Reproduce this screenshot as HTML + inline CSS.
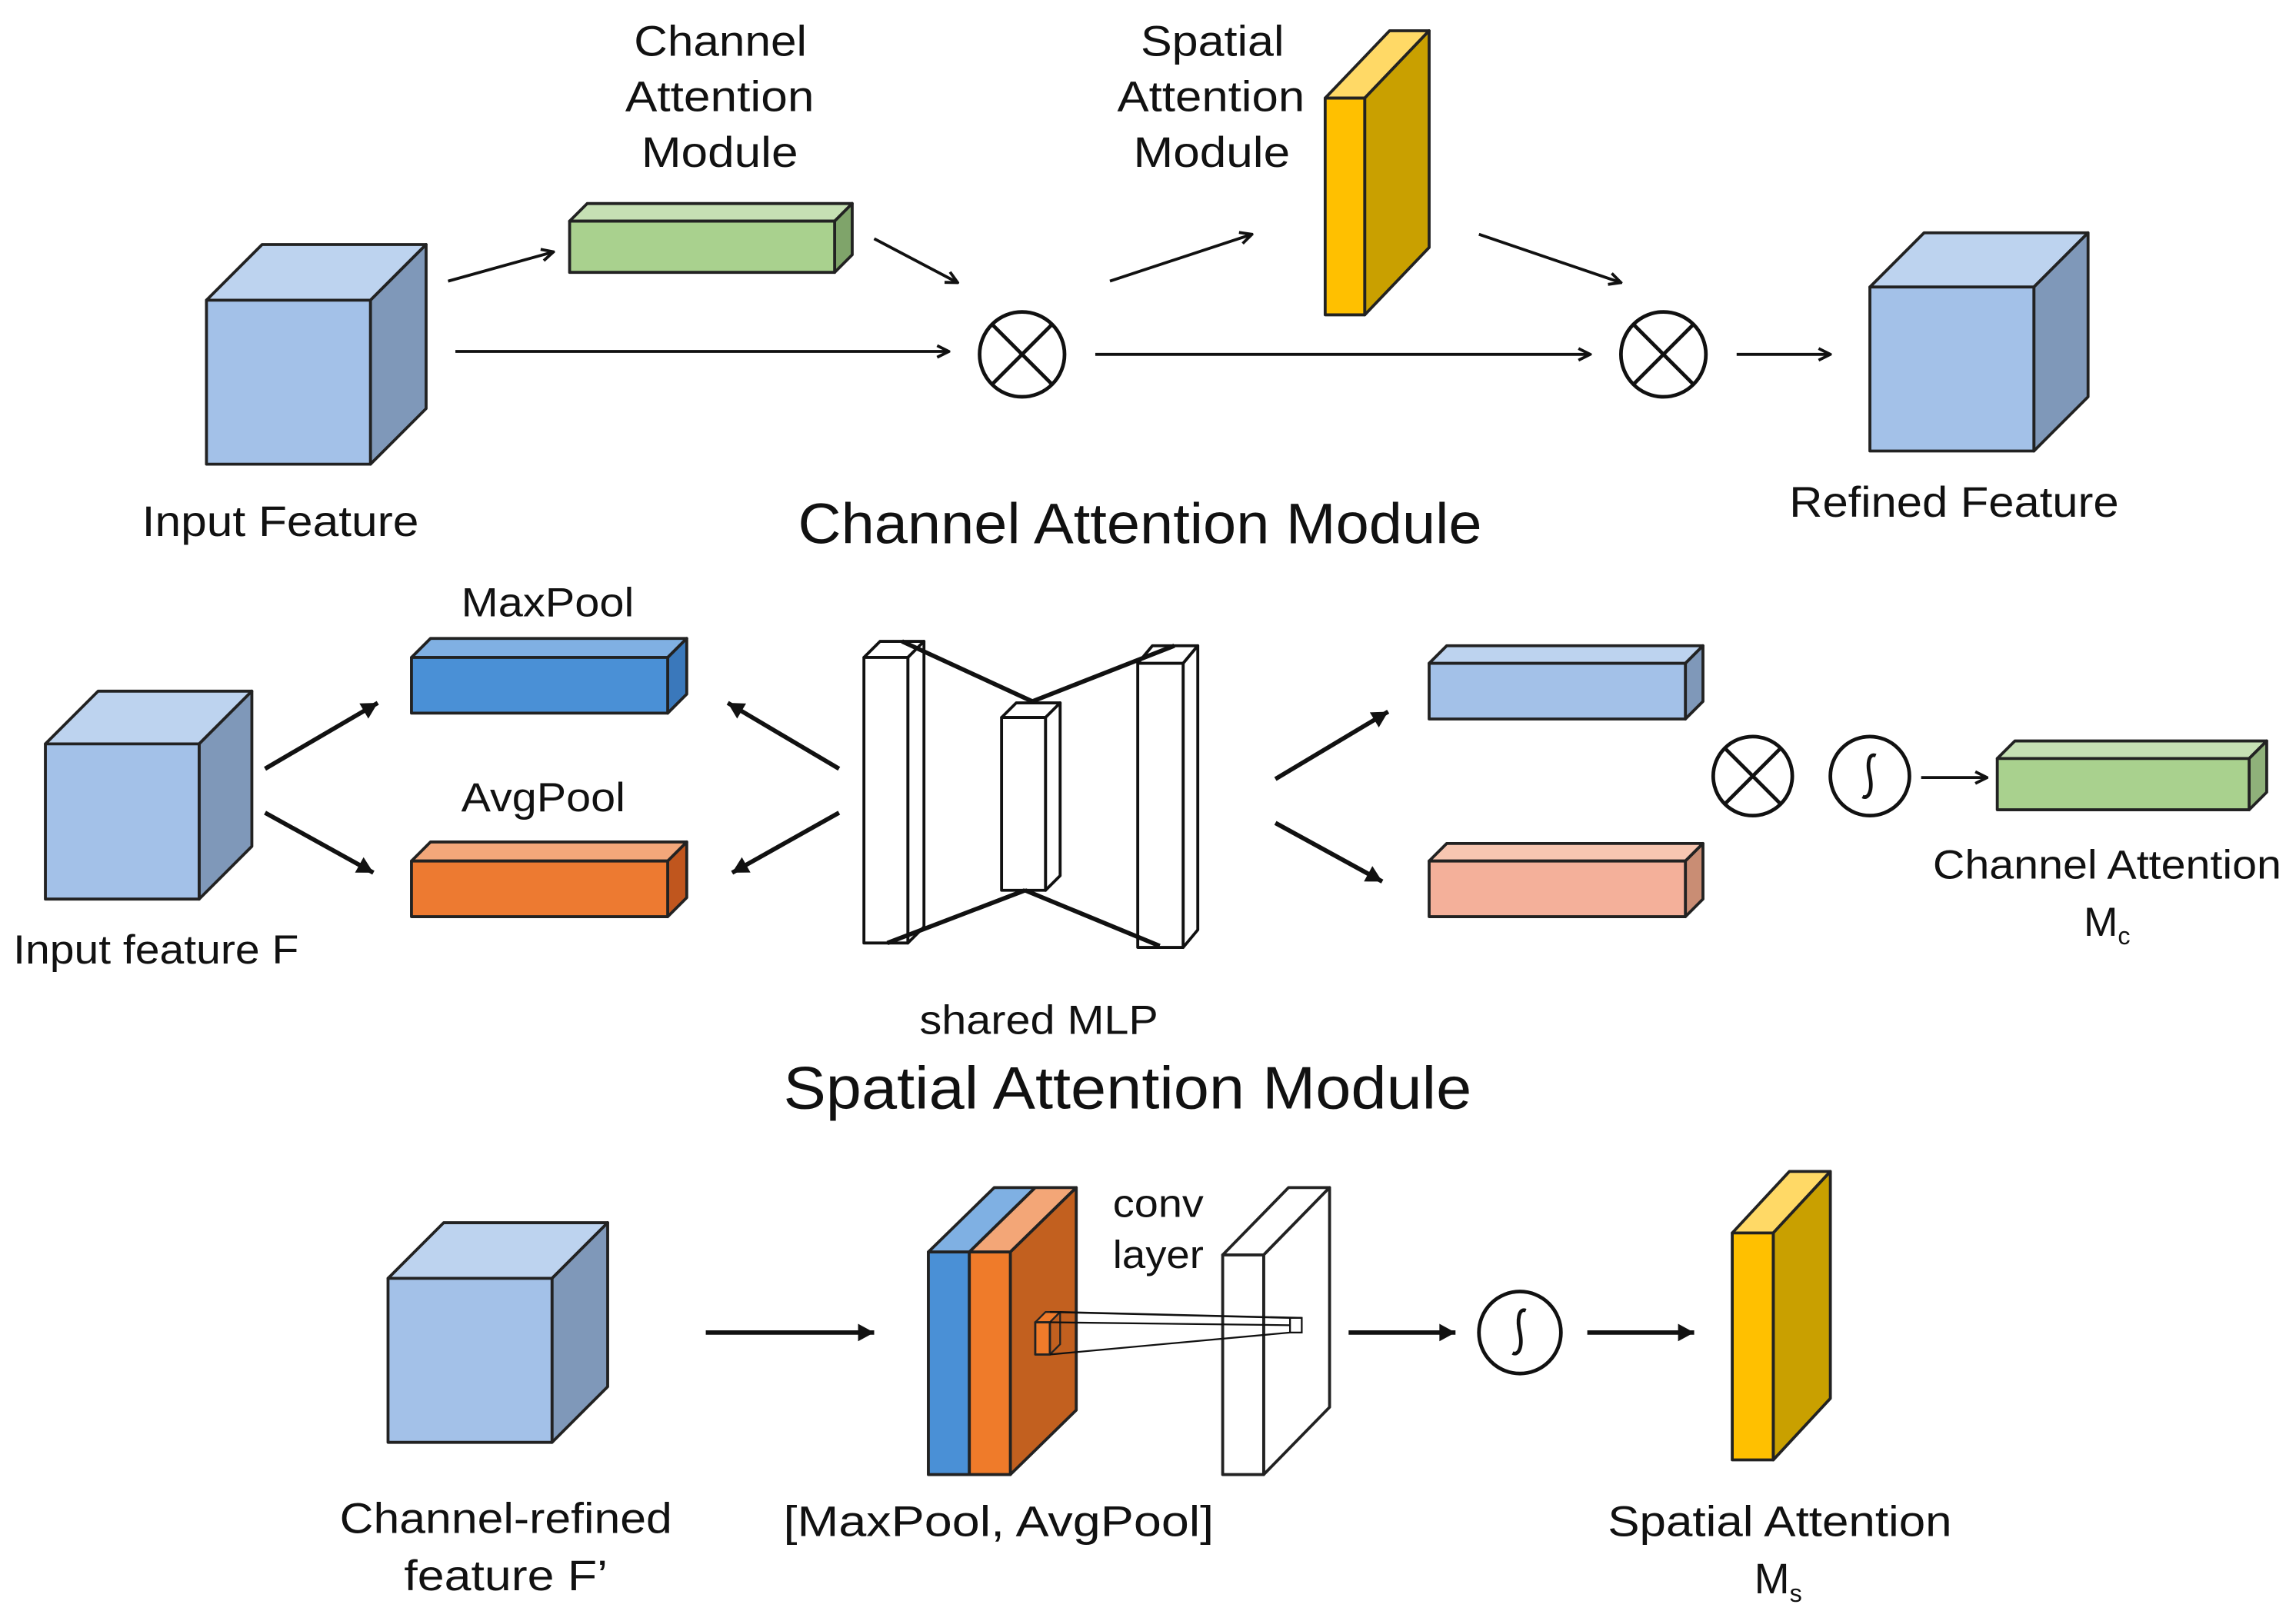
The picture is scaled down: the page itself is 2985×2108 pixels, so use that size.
<!DOCTYPE html>
<html><head><meta charset="utf-8"><style>
html,body{margin:0;padding:0;background:#fff;}
svg{display:block;}
text{font-family:"Liberation Sans",sans-serif;fill:#111;}
</style></head><body>
<svg width="2985" height="2108" viewBox="0 0 1568 1107" preserveAspectRatio="none" xmlns="http://www.w3.org/2000/svg">
<defs>
<marker id="ah" markerWidth="10" markerHeight="10" refX="9" refY="5" orient="auto" markerUnits="userSpaceOnUse">
<path d="M1,1 L9,5 L1,9" fill="none" stroke="#111" stroke-width="2"/>
</marker>
<marker id="ah2" markerWidth="14" markerHeight="14" refX="12" refY="7" orient="auto" markerUnits="userSpaceOnUse">
<path d="M1,1 L12,7 L1,13 Z" fill="#111"/>
</marker>
</defs>
<g stroke="#222" stroke-width="2" stroke-linejoin="round">
<polygon points="141,205 179,167 291,167 253,205" fill="#bdd3ef"/>
<polygon points="253,205 291,167 291,279 253,317" fill="#7f98b9"/>
<rect x="141" y="205" width="112" height="112" fill="#a3c1e8"/>
<polygon points="389,151 401,139 582,139 570,151" fill="#c6e0b4"/>
<polygon points="570,151 582,139 582,174 570,186" fill="#7fa46a"/>
<rect x="389" y="151" width="181" height="35" fill="#a9d18e"/>
<polygon points="905,67 949,21 976,21 932,67" fill="#ffd966"/>
<polygon points="932,67 976,21 976,169 932,215" fill="#c9a000"/>
<rect x="905" y="67" width="27" height="148" fill="#ffc000"/>
<polygon points="1277,196 1314,159 1426,159 1389,196" fill="#bdd3ef"/>
<polygon points="1389,196 1426,159 1426,271 1389,308" fill="#7f98b9"/>
<rect x="1277" y="196" width="112" height="112" fill="#a3c1e8"/>
</g>
<g fill="none" stroke="#111" stroke-width="2.5">
<circle cx="698" cy="242" r="29"/><path d="M677,221 L719,263 M719,221 L677,263"/>
<circle cx="1136" cy="242" r="29"/><path d="M1115,221 L1157,263 M1157,221 L1115,263"/>
</g>
<g stroke="#111" stroke-width="2" marker-end="url(#ah)">
<line x1="306" y1="192" x2="378" y2="172"/>
<line x1="597" y1="163" x2="654" y2="193"/>
<line x1="311" y1="240" x2="648" y2="240"/>
<line x1="758" y1="192" x2="855" y2="160"/>
<line x1="1010" y1="160" x2="1107" y2="193"/>
<line x1="748" y1="242" x2="1086" y2="242"/>
<line x1="1186" y1="242" x2="1250" y2="242"/>
</g>
<g font-size="29" lengthAdjust="spacingAndGlyphs">
<text x="433" y="38" textLength="118" lengthAdjust="spacingAndGlyphs">Channel</text>
<text x="427" y="76" textLength="129" lengthAdjust="spacingAndGlyphs">Attention</text>
<text x="438" y="114" textLength="107" lengthAdjust="spacingAndGlyphs">Module</text>
<text x="779" y="38" textLength="98" lengthAdjust="spacingAndGlyphs">Spatial</text>
<text x="763" y="76" textLength="128" lengthAdjust="spacingAndGlyphs">Attention</text>
<text x="774" y="114" textLength="107" lengthAdjust="spacingAndGlyphs">Module</text>
<text x="97" y="366" textLength="189" lengthAdjust="spacingAndGlyphs">Input Feature</text>
<text x="1222" y="353" textLength="225" lengthAdjust="spacingAndGlyphs">Refined Feature</text>
</g>
<text x="545" y="371" font-size="39" textLength="467" lengthAdjust="spacingAndGlyphs">Channel Attention Module</text>

<g stroke="#222" stroke-width="2" stroke-linejoin="round">
<polygon points="31,508 67,472 172,472 136,508" fill="#bdd3ef"/>
<polygon points="136,508 172,472 172,578 136,614" fill="#7f98b9"/>
<rect x="31" y="508" width="105" height="106" fill="#a3c1e8"/>
<polygon points="281,449 294,436 469,436 456,449" fill="#80b0e3"/>
<polygon points="456,449 469,436 469,474 456,487" fill="#3a78bb"/>
<rect x="281" y="449" width="175" height="38" fill="#4a90d6"/>
<polygon points="281,588 294,575 469,575 456,588" fill="#f3a77a"/>
<polygon points="456,588 469,575 469,613 456,626" fill="#c0561e"/>
<rect x="281" y="588" width="175" height="38" fill="#ed7a31"/>
<polygon points="976,453 988,441 1163,441 1151,453" fill="#bdd3ef"/>
<polygon points="1151,453 1163,441 1163,479 1151,491" fill="#7f98b9"/>
<rect x="976" y="453" width="175" height="38" fill="#a3c1e8"/>
<polygon points="976,588 988,576 1163,576 1151,588" fill="#f7c6b1"/>
<polygon points="1151,588 1163,576 1163,614 1151,626" fill="#c98d74"/>
<rect x="976" y="588" width="175" height="38" fill="#f4b09a"/>
<polygon points="1364,518 1376,506 1548,506 1536,518" fill="#c6e0b4"/>
<polygon points="1536,518 1548,506 1548,541 1536,553" fill="#8fb17a"/>
<rect x="1364" y="518" width="172" height="35" fill="#a9d18e"/>
</g>
<g fill="#fff" stroke="#111" stroke-width="2" stroke-linejoin="round">
<polygon points="590,449 601,438 631,438 620,449"/>
<polygon points="620,449 631,438 631,633 620,644"/>
<rect x="590" y="449" width="30" height="195"/>
<polygon points="684,490 694,480 724,480 714,490"/>
<polygon points="714,490 724,480 724,598 714,608"/>
<rect x="684" y="490" width="30" height="118"/>
<polygon points="777,453 787,441 818,441 808,453"/>
<polygon points="808,453 818,441 818,635 808,647"/>
<rect x="777" y="453" width="31" height="194"/>
</g>
<g stroke="#111" stroke-width="3">
<line x1="616" y1="438" x2="705" y2="479"/>
<line x1="705" y1="479" x2="802" y2="441"/>
<line x1="606" y1="644" x2="700" y2="608"/>
<line x1="700" y1="608" x2="792" y2="646"/>
</g>
<g stroke="#111" stroke-width="3" marker-end="url(#ah2)">
<line x1="181" y1="525" x2="258" y2="480"/>
<line x1="181" y1="555" x2="255" y2="596"/>
<line x1="573" y1="525" x2="497" y2="480"/>
<line x1="573" y1="555" x2="500" y2="596"/>
<line x1="871" y1="532" x2="948" y2="486"/>
<line x1="871" y1="562" x2="944" y2="602"/>
</g>
<g fill="none" stroke="#111" stroke-width="2.5">
<circle cx="1197" cy="530" r="27"/><path d="M1178,511 L1216,549 M1216,511 L1178,549"/>
<circle cx="1277" cy="530" r="27"/><path d="M1281,516 C1276,514 1275,522 1277,530 C1279,540 1276,546 1272,544"/>
</g>
<line x1="1312" y1="531" x2="1357" y2="531" stroke="#111" stroke-width="2" marker-end="url(#ah)"/>
<g font-size="28">
<text x="315" y="421" textLength="118" lengthAdjust="spacingAndGlyphs">MaxPool</text>
<text x="315" y="554" textLength="112" lengthAdjust="spacingAndGlyphs">AvgPool</text>
<text x="9" y="658" textLength="195" lengthAdjust="spacingAndGlyphs">Input feature F</text>
<text x="628" y="706" textLength="163" lengthAdjust="spacingAndGlyphs">shared MLP</text>
<text x="1320" y="600" textLength="238" lengthAdjust="spacingAndGlyphs">Channel Attention</text>
<text x="1423" y="639">M<tspan font-size="17" dy="6">c</tspan></text>
</g>
<text x="535" y="757" font-size="41" textLength="470" lengthAdjust="spacingAndGlyphs">Spatial Attention Module</text>

<g stroke="#222" stroke-width="2" stroke-linejoin="round">
<polygon points="265,873 303,835 415,835 377,873" fill="#bdd3ef"/>
<polygon points="377,873 415,835 415,947 377,985" fill="#7f98b9"/>
<rect x="265" y="873" width="112" height="112" fill="#a3c1e8"/>
<polygon points="634,855 679,811 707,811 662,855" fill="#7fb0e3"/>
<polygon points="662,855 707,811 735,811 690,855" fill="#f3a677"/>
<polygon points="690,855 735,811 735,963 690,1007" fill="#c2601f"/>
<rect x="634" y="855" width="28" height="152" fill="#4a90d6"/>
<rect x="662" y="855" width="28" height="152" fill="#ef7b2a"/>
<polygon points="707,903 714,896 724,896 717,903" fill="#ef7b2a" stroke-width="1.2"/>
<polygon points="717,903 724,896 724,918 717,925" fill="#c2601f" stroke-width="1.2"/>
<rect x="707" y="903" width="10" height="22" fill="#ef7b2a" stroke-width="1.5"/>
<polygon points="835,857 880,811 908,811 863,857" fill="#fff"/>
<polygon points="863,857 908,811 908,961 863,1007" fill="#fff"/>
<rect x="835" y="857" width="28" height="150" fill="#fff"/>
<polygon points="1183,842 1222,800 1250,800 1211,842" fill="#ffd966"/>
<polygon points="1211,842 1250,800 1250,955 1211,997" fill="#c9a000"/>
<rect x="1183" y="842" width="28" height="155" fill="#ffc000"/>
</g>
<g stroke="#111" stroke-width="1.2" fill="none">
<line x1="717" y1="896" x2="881" y2="900"/>
<line x1="717" y1="903" x2="881" y2="905"/>
<line x1="717" y1="925" x2="881" y2="910"/>
<line x1="724" y1="896" x2="889" y2="900"/>
<rect x="881" y="900" width="8" height="10" fill="#fff"/>
</g>
<g stroke="#111" stroke-width="3" marker-end="url(#ah2)">
<line x1="482" y1="910" x2="597" y2="910"/>
<line x1="921" y1="910" x2="994" y2="910"/>
<line x1="1084" y1="910" x2="1157" y2="910"/>
</g>
<g fill="none" stroke="#111" stroke-width="2.5">
<circle cx="1038" cy="910" r="28"/><path d="M1042,895 C1037,893 1036,902 1038,910 C1040,920 1037,926 1033,924"/>
</g>
<g font-size="29">
<text x="760" y="831" font-size="27" textLength="62" lengthAdjust="spacingAndGlyphs">conv</text>
<text x="760" y="866" font-size="27" textLength="62" lengthAdjust="spacingAndGlyphs">layer</text>
<text x="232" y="1047" textLength="227" lengthAdjust="spacingAndGlyphs">Channel-refined</text>
<text x="276" y="1086" textLength="139" lengthAdjust="spacingAndGlyphs">feature F’</text>
<text x="535" y="1049" textLength="294" lengthAdjust="spacingAndGlyphs">[MaxPool,   AvgPool]</text>
<text x="1098" y="1049" textLength="235" lengthAdjust="spacingAndGlyphs">Spatial Attention</text>
<text x="1198" y="1088">M<tspan font-size="17" dy="6">s</tspan></text>
</g>
</svg>
</body></html>
